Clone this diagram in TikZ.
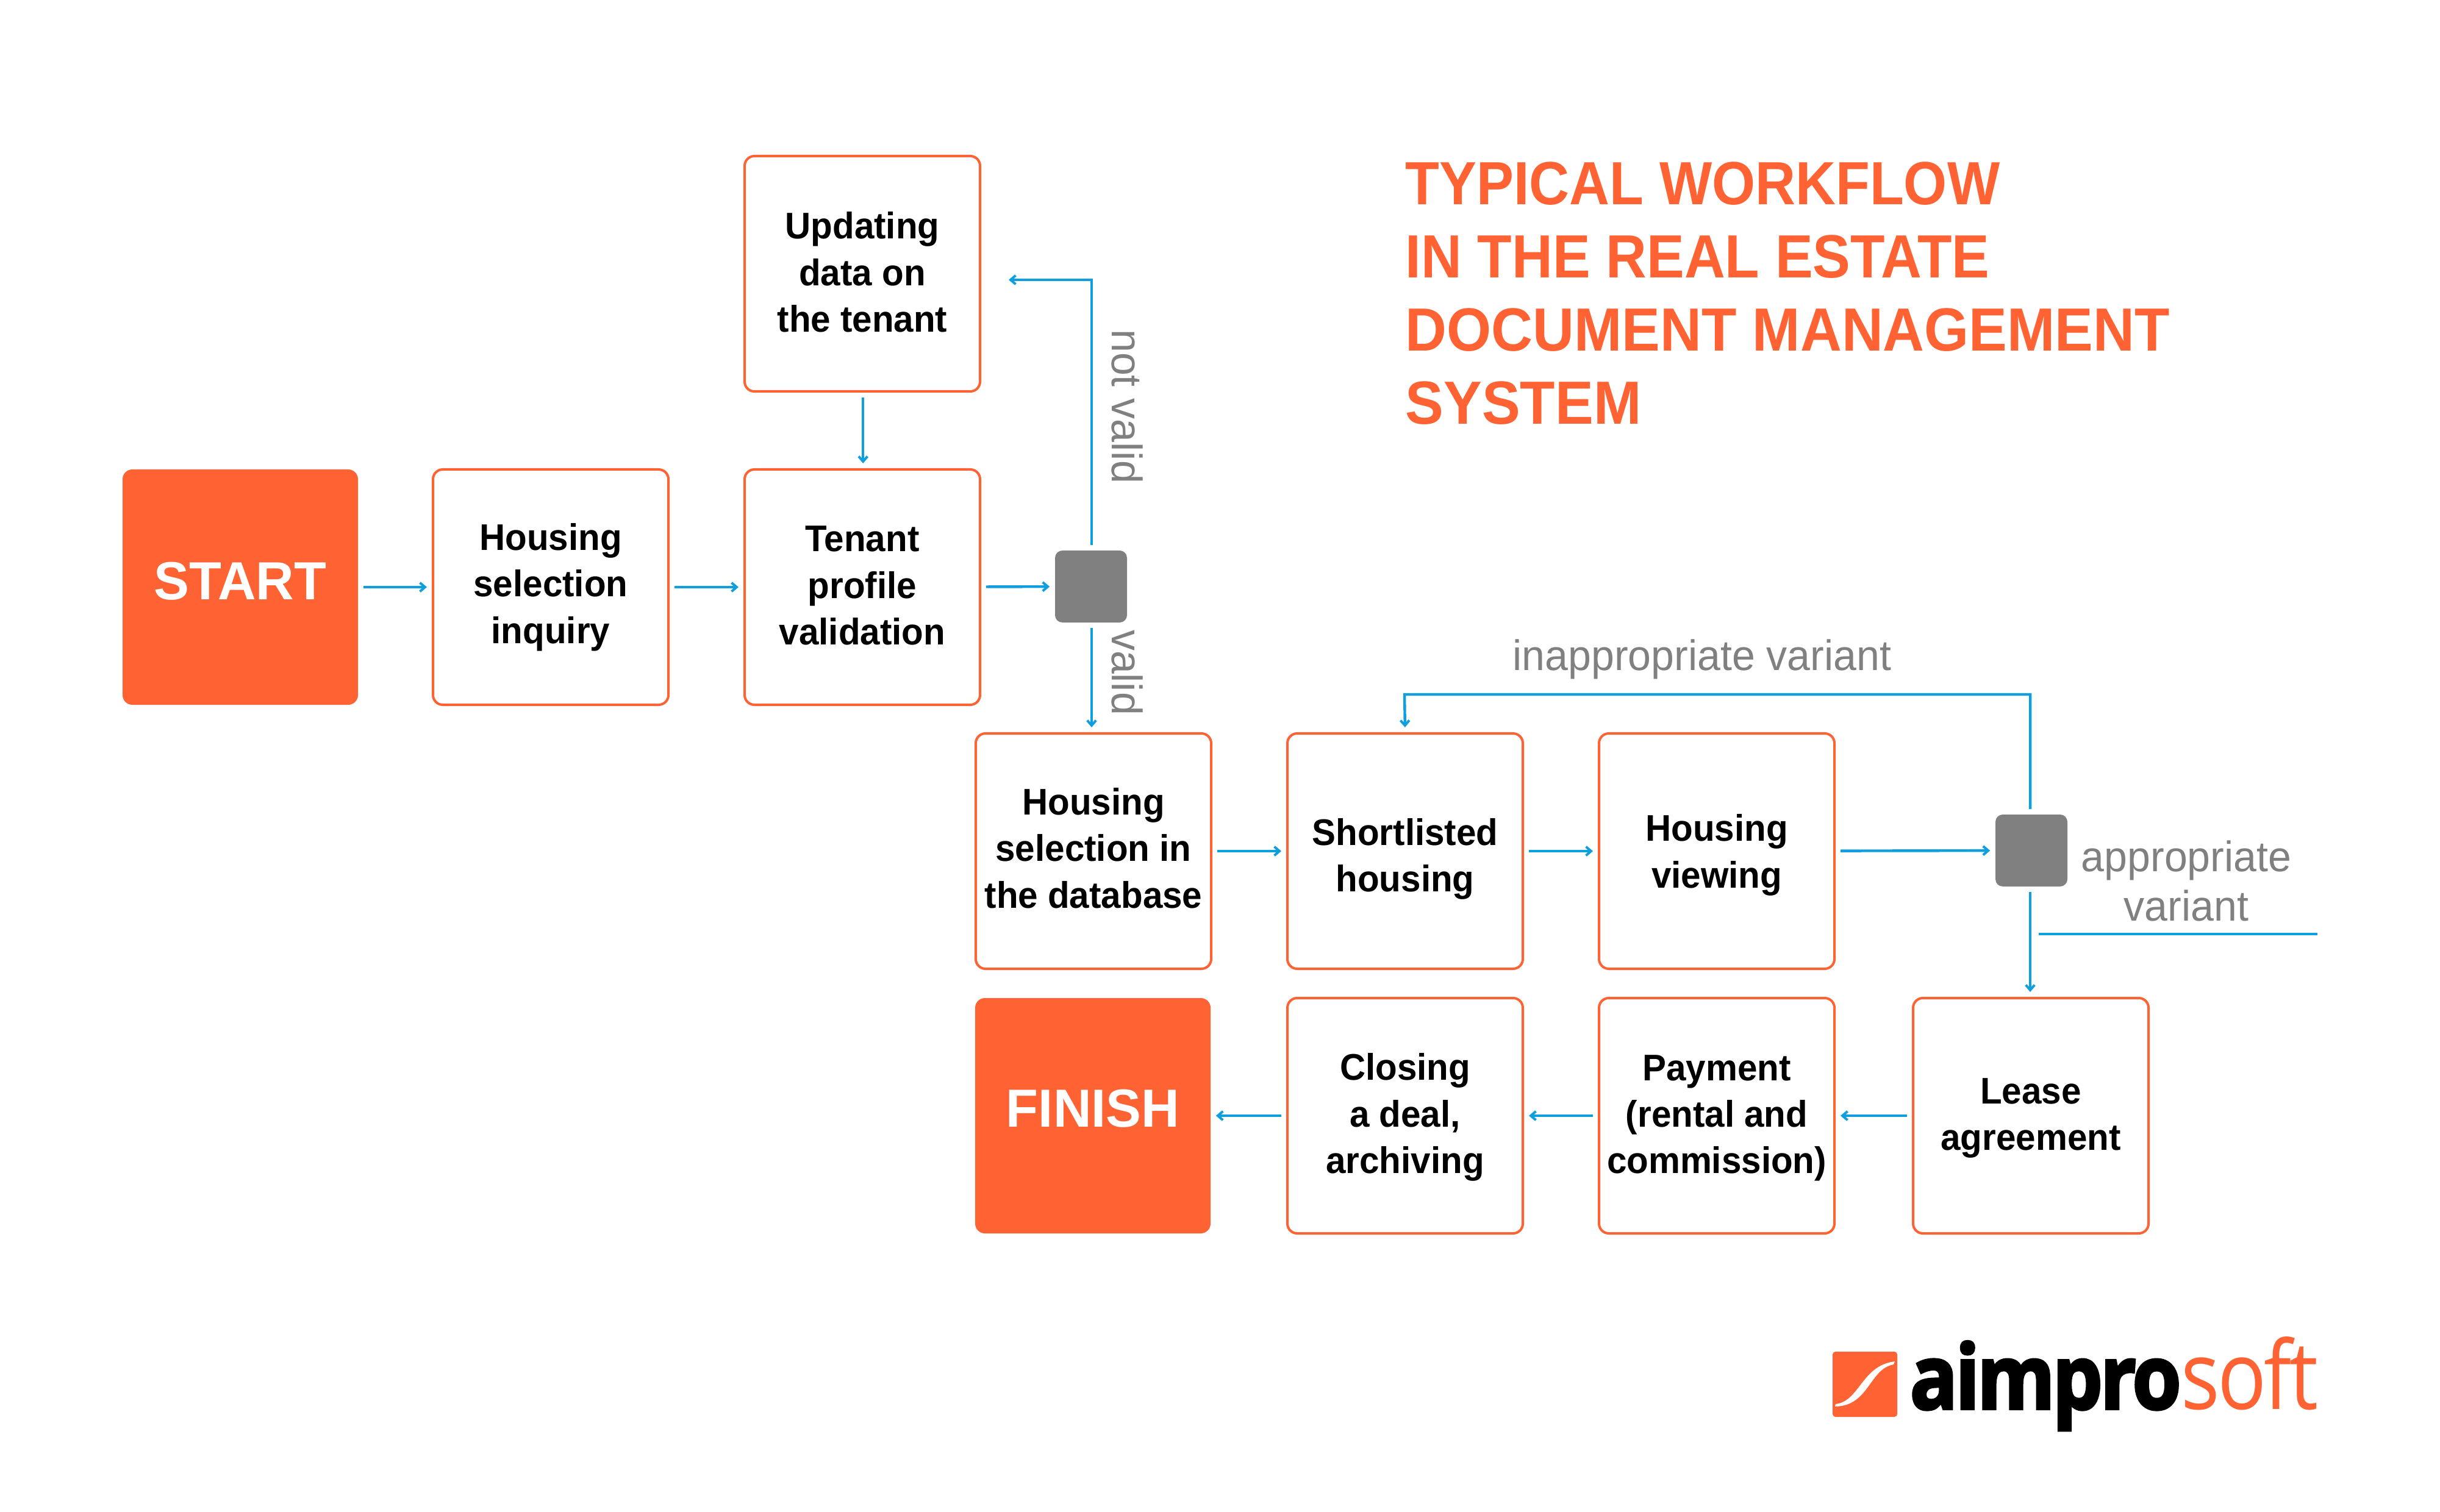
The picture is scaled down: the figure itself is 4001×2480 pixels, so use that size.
\documentclass[tikz,border=0pt]{standalone}
\usepackage{fontspec}
\setmainfont{Liberation Sans}[FakeStretch=0.96]
\newfontfamily\titlefont{Liberation Sans}[FakeStretch=0.94]
\newfontfamily\endfont{Liberation Sans}[FakeStretch=0.985]
\newfontfamily\mutefont{Liberation Sans}[FakeStretch=0.972]
\newfontfamily\logobold{Open Sans}[FakeBold=3,LetterSpace=-3]
\newfontfamily\logolight{Open Sans}[LetterSpace=-3]
\usetikzlibrary{arrows.meta,calc}
\definecolor{acc}{HTML}{FF6333}
\definecolor{flow}{HTML}{0F9EDE}
\definecolor{mute}{HTML}{808080}
\newcommand\toppad[1]{\rule{0pt}{#1}}
\newcommand\botpad[1]{\rule[-#1]{0pt}{#1}}
\tikzset{
  stepbox/.style={draw=acc,line width=1pt,rounded corners=4pt,fill=white,minimum width=96.5pt,minimum height=96.5pt,inner sep=0pt,align=center,font=\fontsize{15.2}{19.1}\selectfont\bfseries,text=black},
  endbox/.style={fill=acc,rounded corners=4pt,minimum width=96.5pt,minimum height=96.5pt,inner sep=0pt,font=\endfont\fontsize{22}{26}\selectfont\bfseries,text=white},
  gate/.style={fill=mute,rounded corners=3pt,minimum width=29.5pt,minimum height=29.5pt,inner sep=0pt},
  arr/.style={draw=flow,line width=1.1pt,-{Straight Barb[length=2.1pt,width=3.6pt,line width=1pt]},shorten >=2pt,shorten <=2pt},
  plainflow/.style={draw=flow,line width=1.1pt},
  lbl/.style={text=mute,inner sep=0pt,align=center,font=\mutefont\fontsize{17.5}{20.4}\selectfont},
}
\begin{document}
\begin{tikzpicture}[x=0.25pt,y=-0.25pt]
\useasboundingbox (0,0) rectangle (4001,2480);
\node[endbox] (start) at (394,963) {START\botpad{5pt}};
\node[stepbox] (inq) at (903,963) {Housing\\selection\\inquiry\botpad{1.4pt}};
\node[stepbox] (tenant) at (1414,963) {Tenant\\profile\\validation\botpad{1.4pt}};
\node[stepbox] (upd) at (1414,449) {Updating\\data on\\the tenant\botpad{1.4pt}};
\node[gate] (g1) at (1789,962) {};
\node[stepbox] (sel) at (1793,1396) {Housing\\selection in\\the database\botpad{2.6pt}};
\node[stepbox] (short) at (2304,1396) {\toppad{17.6pt}Shortlisted\\housing};
\node[stepbox] (view) at (2815,1396) {\toppad{14.2pt}Housing\\viewing};
\node[gate] (g2) at (3331,1395) {};
\node[stepbox] (lease) at (3330,1830) {\toppad{12.4pt}Lease\\agreement};
\node[stepbox] (pay) at (2815,1830) {\toppad{12.4pt}Payment\\(rental and\\commission)};
\node[stepbox] (close) at (2304,1830) {\toppad{12.4pt}Closing\\a deal,\\archiving};
\node[endbox] (finish) at (1792,1830) {FINISH\botpad{6.2pt}};
\node[lbl,rotate=-90] (nv) at (1848,667) {not valid};
\node[lbl,rotate=-90] (vd) at (1848,1103) {valid};
\node[lbl] (iv) at (2791,1081) {inappropriate variant};
\node[lbl] (av) at (3585,1445) {appropriate\\variant};
\node[anchor=north west,inner sep=0pt,align=left,text=acc,font=\titlefont\fontsize{25}{30}\selectfont\bfseries] (title) at (2304,265) {\scalebox{0.972}[1]{TYPICAL WORKFLOW}\\\scalebox{0.984}[1]{IN THE REAL ESTATE}\\DOCUMENT MANAGEMENT\\SYSTEM};
% connectors
\draw[arr] (start) -- (inq);
\draw[arr] (inq) -- (tenant);
\draw[arr] (tenant) -- (g1);
\draw[arr] ([xshift=.3pt]upd.south) -- ([xshift=.3pt]tenant.north);
\coordinate (u1) at (1790,459);
\coordinate (u2) at (1654,459);
\draw[arr,shorten >=0pt] ([xshift=.25pt]g1.north) -- (u1) -- (u2);
\draw[arr] ([xshift=.25pt]g1.south) -- ([xshift=.25pt]g1.south |- sel.north);
\draw[arr] (sel) -- (short);
\draw[arr] (short) -- (view);
\draw[arr] (view) -- (g2);
\coordinate (f1) at (3329,1139);
\coordinate (f2) at (2303,1139);
\draw[arr] ([xshift=-.5pt]g2.north) -- (f1) -- (f2) -- (short.north);
\draw[arr] ([xshift=-.5pt]g2.south) -- ([xshift=-.25pt]lease.north);
\coordinate (h1) at (3343,1532);
\coordinate (h2) at (3800,1532);
\draw[plainflow] (h1) -- (h2);
\draw[arr] (lease) -- (pay);
\draw[arr] (pay) -- (close);
\draw[arr] (close) -- (finish);
% logo
\fill[acc,rounded corners=1.2pt] (3005,2217) rectangle (3111,2324);
\fill[white] (3010,2303) .. controls (3050,2298) and (3052,2240) .. (3107,2233) -- (3105,2238) .. controls (3065,2245) and (3065,2306) .. (3009,2307) -- cycle;
\node[anchor=base west,inner sep=0pt] (l1) at (3131,2311) {\resizebox{111.2pt}{27.75pt}{\logobold\bfseries aimpro}};
\node[anchor=base west,inner sep=0pt,text=acc] (l2) at (3576,2311) {\resizebox{56pt}{29.75pt}{\logolight soft}};
\end{tikzpicture}
\end{document}
